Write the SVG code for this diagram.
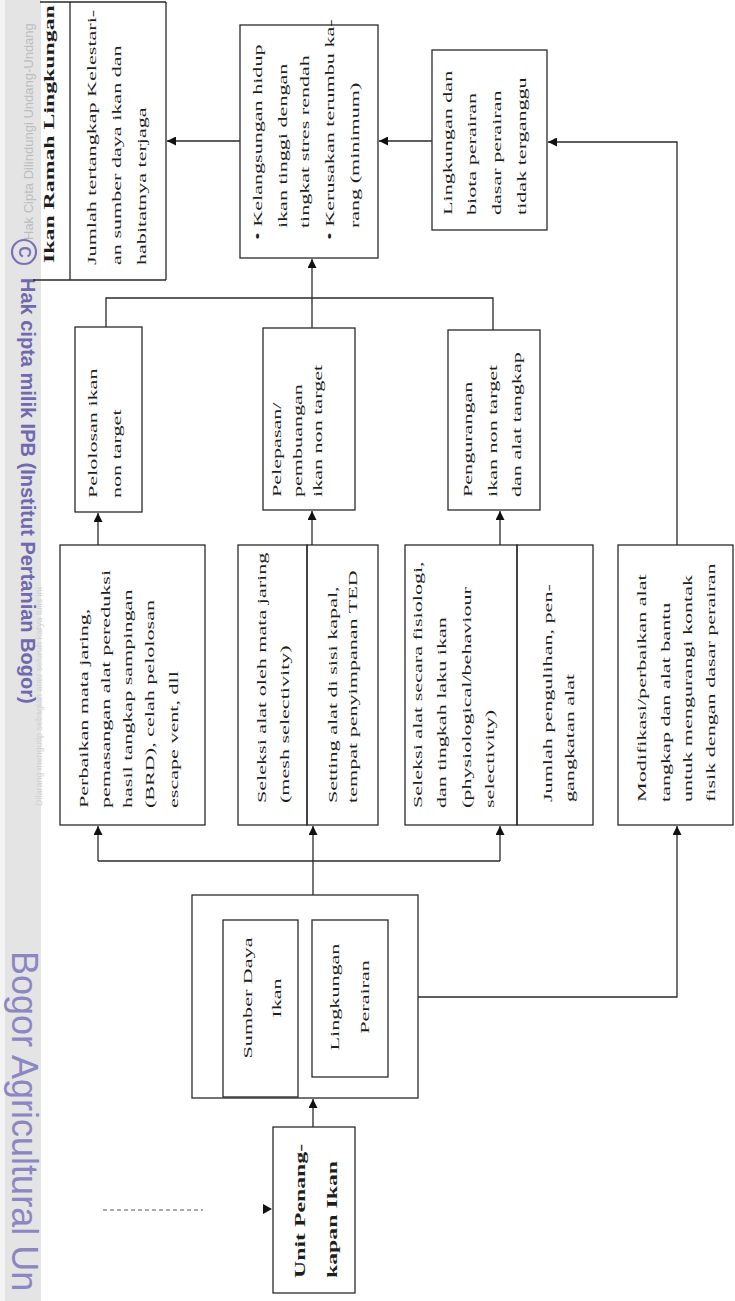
<svg xmlns="http://www.w3.org/2000/svg" width="735" height="1301" viewBox="0 0 735 1301">
<style>
.box{fill:none;stroke:#2a2a2a;stroke-width:1.3}
.ln{fill:none;stroke:#2a2a2a;stroke-width:1.3}
.t{font-family:"Liberation Serif","Times New Roman",serif;font-size:13px;fill:#1e1e1e}
.tb{font-weight:bold;font-size:14px}
.wm{font-family:"Liberation Sans",Arial,sans-serif}
</style>
<defs>
<marker id="ah" viewBox="0 0 10 10" refX="10" refY="5" markerWidth="10" markerHeight="9" orient="auto" markerUnits="userSpaceOnUse">
<path d="M0,0 L10,5 L0,10 z" fill="#111"/>
</marker>
</defs>
<rect width="735" height="1301" fill="#fff"/>

<!-- watermark band -->
<g id="watermark">
<rect x="0" y="0" width="41" height="1301" fill="#e4e4e4"/>
<rect x="0" y="0" width="5" height="1301" fill="#f3f3f3"/>
<text class="wm" transform="translate(33,240) rotate(-90)" font-size="13" fill="#bdbdbd">Hak Cipta Dilindungi Undang-Undang</text>
<text class="wm" transform="translate(42,806) rotate(-90)" font-size="9" fill="#d2d2d2">Dilarang mengutip sebagian atau seluruh karya tulis ini</text>
<circle cx="24" cy="252" r="12" fill="none" stroke="#7a72b8" stroke-width="2.2"/>
<text class="wm" transform="translate(24,252) rotate(90)" text-anchor="middle" dominant-baseline="central" font-size="16" font-weight="bold" fill="#7a72b8">C</text>
<text class="wm" transform="translate(21,278) rotate(90)" font-size="20" font-weight="bold" fill="#7068b0">Hak cipta milik IPB (Institut Pertanian Bogor)</text>
<text class="wm" transform="translate(12,951) rotate(90)" font-size="36" fill="#8c86c2">Bogor Agricultural Un</text>
</g>

<!-- connectors -->
<g id="connectors">
<path class="ln" d="M432,141 H379" marker-end="url(#ah)"/>
<path class="ln" d="M240,141 H167" marker-end="url(#ah)"/>
<path class="ln" d="M677,545 V142 H548" marker-end="url(#ah)"/>
<path class="ln" d="M418,997 H677 V826" marker-end="url(#ah)"/>
<path class="ln" d="M313,1127 V1099" marker-end="url(#ah)"/>
<path class="ln" d="M313,895 V826" marker-end="url(#ah)"/>
<path class="ln" d="M98,861 H500"/>
<path class="ln" d="M98,861 V826" marker-end="url(#ah)"/>
<path class="ln" d="M500,861 V826" marker-end="url(#ah)"/>
<path class="ln" d="M98,545 V513" marker-end="url(#ah)"/>
<path class="ln" d="M312,545 V511" marker-end="url(#ah)"/>
<path class="ln" d="M500,545 V511" marker-end="url(#ah)"/>
<path class="ln" d="M106,327 V298 H493 V330"/>
<path class="ln" d="M312,328 V259" marker-end="url(#ah)"/>
<path d="M103,1210 H203" fill="none" stroke="#555" stroke-width="1" stroke-dasharray="4,3"/>
<path d="M263,1204 L272,1209 L263,1214 z" fill="#111"/>
</g>

<!-- outcome: Ikan Ramah Lingkungan -->
<g id="n-ramah">
<path class="ln" d="M40,2 H166 M33,280 H166 M70,2 V280 M166,2 V280"/>
<text class="t tb" transform="translate(54,263) rotate(-90) scale(1.7,1)">Ikan Ramah Lingkungan</text>
<text class="t" transform="translate(96,265) rotate(-90) scale(1.7,1)"><tspan x="0" y="0">Jumlah tertangkap Kelestari-</tspan><tspan x="0" y="25">an sumber daya ikan dan</tspan><tspan x="0" y="50">habitatnya terjaga</tspan></text>
</g>

<g id="n-kelangsungan">
<rect class="box" x="240" y="25" width="138" height="233"/>
<text class="t" transform="translate(262,240) rotate(-90) scale(1.7,1)"><tspan x="0" y="0">• Kelangsungan hidup</tspan><tspan x="7" y="25">ikan tinggi dengan</tspan><tspan x="7" y="47">tingkat stres rendah</tspan><tspan x="0" y="72">• Kerusakan terumbu ka-</tspan><tspan x="7" y="97">rang (minimum)</tspan></text>
</g>

<g id="n-lingkungan-biota">
<rect class="box" x="432" y="50" width="115" height="180"/>
<text class="t" transform="translate(452,215) rotate(-90) scale(1.7,1)"><tspan x="0" y="0">Lingkungan dan</tspan><tspan x="0" y="24">biota perairan</tspan><tspan x="0" y="49">dasar perairan</tspan><tspan x="0" y="74">tidak terganggu</tspan></text>
</g>

<g id="n-pelolosan">
<rect class="box" x="75" y="327" width="67" height="185"/>
<text class="t" transform="translate(97,498) rotate(-90) scale(1.7,1)"><tspan x="0" y="0">Pelolosan ikan</tspan><tspan x="0" y="24">non target</tspan></text>
</g>

<g id="n-pelepasan">
<rect class="box" x="263" y="328" width="92" height="182"/>
<text class="t" transform="translate(281,497) rotate(-90) scale(1.7,1)"><tspan x="0" y="0">Pelepasan/</tspan><tspan x="0" y="21">pembuangan</tspan><tspan x="0" y="41">ikan non target</tspan></text>
</g>

<g id="n-pengurangan">
<rect class="box" x="448" y="330" width="92" height="180"/>
<text class="t" transform="translate(472,497) rotate(-90) scale(1.7,1)"><tspan x="0" y="0">Pengurangan</tspan><tspan x="0" y="25">ikan non target</tspan><tspan x="0" y="49">dan alat tangkap</tspan></text>
</g>

<g id="n-perbaikan">
<rect class="box" x="60" y="545" width="145" height="280"/>
<text class="t" transform="translate(88,808) rotate(-90) scale(1.7,1)"><tspan x="0" y="0">Perbaikan mata jaring,</tspan><tspan x="0" y="22">pemasangan alat pereduksi</tspan><tspan x="0" y="44">hasil tangkap sampingan</tspan><tspan x="0" y="66">(BRD), celah pelolosan</tspan><tspan x="0" y="90">escape vent, dll</tspan></text>
</g>

<g id="n-seleksi-mata">
<rect class="box" x="238" y="545" width="69" height="280"/>
<text class="t" transform="translate(266,803) rotate(-90) scale(1.7,1)"><tspan x="0" y="0">Seleksi alat oleh mata jaring</tspan><tspan x="0" y="23">(mesh selectivity)</tspan></text>
</g>

<g id="n-setting">
<rect class="box" x="307" y="545" width="71" height="280"/>
<text class="t" transform="translate(337,803) rotate(-90) scale(1.7,1)"><tspan x="0" y="0">Setting alat di sisi kapal,</tspan><tspan x="0" y="20">tempat penyimpanan TED</tspan></text>
</g>

<g id="n-seleksi-fisiologi">
<rect class="box" x="405" y="545" width="112" height="280"/>
<text class="t" transform="translate(422,808) rotate(-90) scale(1.7,1)"><tspan x="0" y="0">Seleksi alat secara fisiologi,</tspan><tspan x="0" y="24">dan tingkah laku ikan</tspan><tspan x="0" y="49">(physiological/behaviour</tspan><tspan x="0" y="72">selectivity)</tspan></text>
</g>

<g id="n-jumlah">
<rect class="box" x="517" y="545" width="76" height="280"/>
<text class="t" transform="translate(552,802) rotate(-90) scale(1.7,1)"><tspan x="0" y="0">Jumlah pengulihan, pen-</tspan><tspan x="0" y="22">gangkatan alat</tspan></text>
</g>

<g id="n-modifikasi">
<rect class="box" x="618" y="545" width="115" height="280"/>
<text class="t" transform="translate(646,802) rotate(-90) scale(1.7,1)"><tspan x="0" y="0">Modifikasi/perbaikan alat</tspan><tspan x="0" y="24">tangkap dan alat bantu</tspan><tspan x="0" y="46">untuk mengurangi kontak</tspan><tspan x="0" y="69">fisik dengan dasar perairan</tspan></text>
</g>

<g id="n-sumberdaya-group">
<rect class="box" x="192" y="895" width="226" height="203"/>
</g>

<g id="n-sumberdaya">
<rect class="box" x="223" y="920" width="75" height="177"/>
<text class="t" text-anchor="middle" transform="translate(252,998) rotate(-90) scale(1.7,1)"><tspan x="0" y="0">Sumber Daya</tspan><tspan x="0" y="29">Ikan</tspan></text>
</g>

<g id="n-lingkungan-perairan">
<rect class="box" x="312" y="920" width="76" height="157"/>
<text class="t" text-anchor="middle" transform="translate(339,997) rotate(-90) scale(1.7,1)"><tspan x="0" y="0">Lingkungan</tspan><tspan x="0" y="30">Perairan</tspan></text>
</g>

<g id="n-unit">
<rect class="box" x="273" y="1127" width="82" height="166"/>
<text class="t tb" transform="translate(305,1278) rotate(-90) scale(1.7,1)"><tspan x="0" y="0">Unit Penang-</tspan><tspan x="0" y="32">kapan Ikan</tspan></text>
</g>
</svg>
